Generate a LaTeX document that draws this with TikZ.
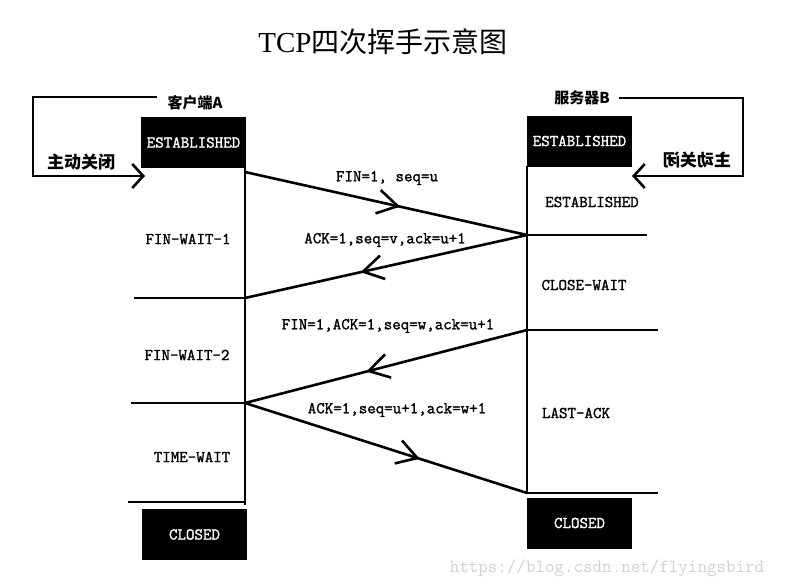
\documentclass[tikz,border=0pt]{standalone}
\usepackage{fontspec}
\usetikzlibrary{arrows.meta,decorations.markings}
\newfontfamily\cjk{Noto Sans CJK SC}
\newfontfamily\serifL{Liberation Serif}
\newfontfamily\monob[FakeBold=1.6]{Latin Modern Mono}
\newfontfamily\monor{Latin Modern Mono}
\newcommand\stfont{\monob\fontsize{16.5}{16.5}\selectfont}
\newcommand\wmfont{\monor\fontsize{18.5}{18.5}\selectfont}
\begin{document}
\begin{tikzpicture}[x=1pt,y=-1pt,
  ln/.style={line width=2.6pt},
  blackbox/.style={fill=black,text=white,minimum width=105pt,minimum height=51pt,inner sep=0pt,font=\stfont},
  txt/.style={font=\stfont,inner sep=0pt},
  cjklab/.style={font=\cjk\bfseries\fontsize{15}{15}\selectfont,inner sep=0pt},
  midarrow/.style={postaction={decorate},decoration={markings,mark=at position #1 with {\arrow{Straight Barb[length=20pt,width=24pt,line width=2.6pt]}}}},
  loopend/.style={-{Straight Barb[length=11pt,width=24pt,line width=2.6pt]}},
]
\useasboundingbox (0,0) rectangle (785,587);
\fill[white] (0,0) rectangle (785,587);

% title
\node[inner sep=0pt] (title) at (383,42) {{\serifL\fontsize{29}{29}\selectfont TCP}{\cjk\fontsize{28}{28}\selectfont 四次挥手示意图}};

% state boxes
\node[blackbox] (estA) at (193.5,142.5) {ESTABLISHED};
\node[blackbox] (estB) at (579.5,141) {ESTABLISHED};
\node[blackbox] (closedA) at (194.5,534.5) {CLOSED};
\node[blackbox] (closedB) at (579.5,523) {CLOSED};

% host labels
\node[cjklab] (hostA) at (195,103) {客户端A};
\node[cjklab] (hostB) at (582,98) {服务器B};
\node[cjklab,font=\cjk\bfseries\fontsize{17}{17}\selectfont] (closeA) at (81,162) {主动关闭};
\node[cjklab,font=\cjk\bfseries\fontsize{17}{17}\selectfont] (closeB) at (697,160) {\reflectbox{主动关闭}};

% time lines
\coordinate (Atop) at (245,168);
\coordinate (Abot) at (245,505);
\coordinate (Btop) at (527,166);
\coordinate (Bbot) at (527,494);
\draw[ln] (Atop) -- (Abot);
\draw[ln] (Btop) -- (Bbot);

% horizontal separators
\coordinate (a1l) at (134,298); \coordinate (a1r) at (245,298);
\coordinate (a2l) at (131,403); \coordinate (a2r) at (245,403);
\coordinate (a3l) at (128,502); \coordinate (a3r) at (245,502);
\coordinate (b1l) at (527,235); \coordinate (b1r) at (647,235);
\coordinate (b2l) at (527,330); \coordinate (b2r) at (658,330);
\coordinate (b3l) at (527,493); \coordinate (b3r) at (658,493);
\draw[ln] (a1l) -- (a1r);
\draw[ln] (a2l) -- (a2r);
\draw[ln] (a3l) -- (a3r);
\draw[ln] (b1l) -- (b1r);
\draw[ln] (b2l) -- (b2r);
\draw[ln] (b3l) -- (b3r);

% loops
\coordinate (la0) at (157,97); \coordinate (la1) at (33,97);
\coordinate (la2) at (33,176); \coordinate (la3) at (145,176);
\draw[ln,loopend] (la0) -- (la1) -- (la2) -- (la3);
\coordinate (lb0) at (619,98); \coordinate (lb1) at (743,98);
\coordinate (lb2) at (743,176); \coordinate (lb3) at (632,176);
\draw[ln,loopend] (lb0) -- (lb1) -- (lb2) -- (lb3);

% state labels
\node[txt] (fw1) at (188,239) {FIN-WAIT-1};
\node[txt] (fw2) at (187,355) {FIN-WAIT-2};
\node[txt] (tw) at (192,457) {TIME-WAIT};
\node[txt] (estB2) at (592,202) {ESTABLISHED};
\node[txt] (cw) at (584,285) {CLOSE-WAIT};
\node[txt] (la) at (576,413) {LAST-ACK};

% messages
\coordinate (m1s) at (245,172); \coordinate (m1e) at (527,235);
\coordinate (m2s) at (527,235); \coordinate (m2e) at (245,298);
\coordinate (m3s) at (527,330); \coordinate (m3e) at (245,403);
\coordinate (m4s) at (245,403); \coordinate (m4e) at (527,493);
\draw[ln,midarrow=0.55] (m1s) -- (m1e);
\draw[ln,midarrow=0.59] (m2s) -- (m2e);
\draw[ln,midarrow=0.57] (m3s) -- (m3e);
\draw[ln,midarrow=0.62] (m4s) -- (m4e);

\node[txt] (l1) at (387,178) {FIN=1, seq=u};
\node[txt] (l2) at (385,240) {ACK=1,seq=v,ack=u+1};
\node[txt] (l3) at (388,326) {FIN=1,ACK=1,seq=w,ack=u+1};
\node[txt] (l4) at (397,410) {ACK=1,seq=u+1,ack=w+1};

% watermark
\node[font=\wmfont,text=black!18,inner sep=0pt] (wm) at (607,568) {https://blog.csdn.net/flyingsbird};
\end{tikzpicture}
\end{document}
